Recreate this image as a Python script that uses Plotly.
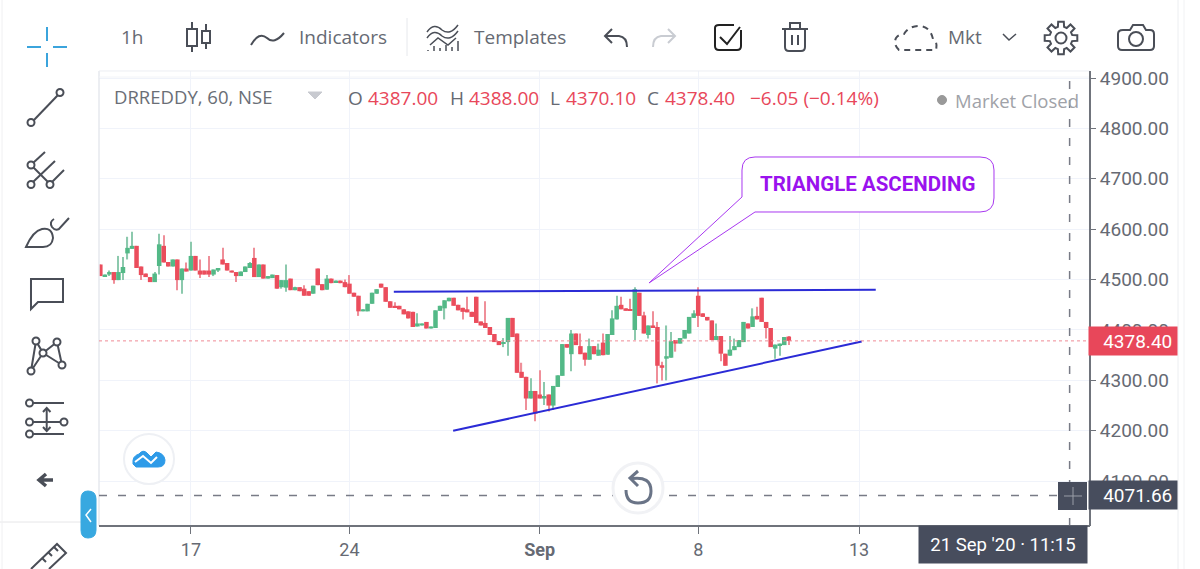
import math
import plotly.graph_objects as go

opens = [4530,4507,4510,4515,4499,4513,4552,4561,4567,4526,4512,4505,4495,4527,4567,4535,4526,4540,4499,4522,
         4518,4547,4518,4518,4518,4510,4518,4540,4533,4518,4515,4507,4515,4523,4543,4505,4530,4502,4503,4509,
         4485,4484,4502,4479,4485,4482,4477,4472,4522,4491,4480,4502,4495,4498,4495,4492,4474,4468,4437,4437,
         4452,4472,4492,4485,4457,4448,4448,4441,4437,4436,4407,4409,4416,4403,4404,4438,4443,4457,4464,4450,
         4444,4441,4436,4466,4417,4414,4406,4392,4378,4373,4376,4424,4393,4317,4307,4264,4279,4272,4264,4272,
         4250,4287,4309,4372,4352,4393,4368,4355,4341,4368,4349,4375,4351,4390,4421,4450,4443,4441,4400,4474,
         4429,4390,4409,4406,4330,4343,4345,4380,4373,4383,4393,4424,4468,4433,4426,4419,4380,4388,4353,4349,
         4360,4366,4376,4413,4406,4428,4464,4416,4404,4363,4370,4370,4387]
highs = [4530,4510,4518,4515,4547,4545,4585,4595,4567,4526,4512,4505,4515,4591,4588,4535,4540,4540,4522,4534,
         4575,4547,4540,4518,4547,4520,4523,4563,4533,4518,4515,4516,4526,4535,4563,4530,4530,4507,4510,4509,
         4499,4530,4502,4486,4485,4489,4477,4488,4522,4491,4509,4502,4498,4498,4500,4509,4474,4468,4441,4452,
         4474,4481,4492,4485,4457,4455,4448,4441,4437,4436,4433,4413,4416,4407,4439,4448,4459,4464,4464,4450,
         4444,4466,4436,4466,4417,4457,4406,4392,4378,4384,4424,4424,4393,4335,4307,4304,4279,4320,4297,4272,
         4289,4310,4372,4372,4400,4393,4393,4355,4383,4368,4373,4393,4392,4439,4468,4466,4443,4462,4485,4474,
         4436,4409,4437,4416,4337,4409,4396,4380,4384,4400,4426,4439,4485,4433,4426,4419,4413,4388,4353,4388,
         4383,4380,4416,4413,4443,4446,4464,4416,4404,4371,4373,4386,4388]
lows = [4507,4507,4507,4492,4499,4499,4540,4561,4523,4499,4505,4495,4495,4510,4534,4526,4526,4479,4472,4516,
        4518,4518,4503,4510,4505,4507,4515,4530,4518,4514,4495,4507,4515,4523,4505,4505,4502,4502,4503,4482,
        4482,4476,4479,4479,4477,4468,4468,4472,4489,4479,4480,4493,4495,4493,4485,4472,4466,4428,4437,4437,
        4452,4472,4484,4456,4444,4445,4441,4431,4423,4406,4407,4409,4403,4403,4404,4438,4421,4457,4448,4439,
        4421,4435,4426,4414,4409,4404,4390,4376,4370,4366,4349,4386,4315,4305,4241,4264,4219,4264,4251,4238,
        4241,4287,4309,4365,4318,4370,4352,4329,4341,4352,4349,4350,4351,4390,4421,4441,4438,4438,4380,4428,
        4393,4383,4404,4294,4300,4300,4345,4357,4373,4383,4393,4424,4406,4426,4419,4380,4380,4338,4329,4349,
        4360,4366,4376,4403,4406,4421,4416,4383,4366,4343,4349,4370,4370.10]
closes = [4507,4510,4515,4499,4515,4525,4563,4567,4523,4509,4505,4495,4512,4570,4534,4526,4540,4499,4522,4516,
          4547,4518,4510,4510,4510,4520,4523,4530,4518,4514,4507,4516,4526,4533,4505,4530,4502,4507,4510,4482,
          4499,4499,4479,4485,4477,4468,4468,4488,4489,4479,4502,4493,4498,4493,4485,4472,4466,4437,4441,4452,
          4474,4481,4484,4456,4444,4445,4441,4431,4423,4406,4413,4413,4403,4407,4439,4448,4459,4464,4448,4439,
          4436,4435,4426,4414,4409,4404,4390,4376,4370,4375,4424,4386,4315,4305,4264,4279,4234,4264,4269,4250,
          4289,4310,4372,4365,4393,4370,4352,4341,4368,4352,4361,4350,4392,4423,4448,4441,4438,4438,4481,4428,
          4393,4409,4404,4329,4325,4348,4378,4373,4384,4400,4426,4433,4428,4426,4419,4380,4388,4353,4329,4361,
          4368,4380,4416,4403,4427,4421,4416,4404,4366,4371,4373,4386,4378.40]

price_ticks = [4100,4200,4300,4400,4500,4600,4700,4800,4900]
date_ticks = [20,55,97,132,167.5]
date_labels = ["17","24","<b>Sep</b>","8","13"]
last_price = 4378.40
cross_index = 214
cross_price = 4071.66
resistance_index = [64.8,171.2]
resistance_price = [4476,4480]
support_index = [77.9,168.1]
support_price = [4200,4377]

DARK = "#4a4e57"; GREY="#666a73"; RED="#e8475a"; PURPLE="#9a12ee"; BLUE="#2b2bd6"; TAB="#38a8e0"

def X(p): return p/1200
def Y(p): return 1-p/569
def path(s):
    out=[]; isx=True
    for t in s.split():
        if t.isalpha(): out.append(t); isx=True
        else:
            v=float(t); out.append(f"{X(v) if isx else Y(v):.5f}"); isx=not isx
    return " ".join(out)

shapes=[]
def P(s,color=DARK,w=2,fill=None,dash=None):
    d=dict(type="path",path=path(s),xref="paper",yref="paper",line=dict(color=color,width=w))
    if dash: d["line"]["dash"]=dash
    if fill: d["fillcolor"]=fill
    shapes.append(d)
def C(cx,cy,r,color=DARK,w=2,fill=None):
    d=dict(type="circle",xref="paper",yref="paper",x0=X(cx-r),x1=X(cx+r),y0=Y(cy+r),y1=Y(cy-r),line=dict(color=color,width=w))
    if fill: d["fillcolor"]=fill
    shapes.append(d)
def R(x0,y0,x1,y1,fill,color=None,w=0):
    shapes.append(dict(type="rect",xref="paper",yref="paper",x0=X(x0),x1=X(x1),y0=Y(y1),y1=Y(y0),fillcolor=fill,line=dict(color=color or fill,width=w)))

ann=[]
def T(x,y,text,size=19,color=GREY,font="Open Sans",anchor="left"):
    ann.append(dict(x=X(x-2 if anchor=="left" else x),y=Y(y),xref="paper",yref="paper",text=text,showarrow=False,xanchor=anchor,yanchor="middle",
                    font=dict(family=font,size=size,color=color)))

# plot frame pieces
P("M 99 71 L 99 526",color="#e6e8ee",w=1.5)
P("M 99 71 L 1090 71",color="#eceef3",w=1)
P("M 99 77 L 1090 77",color="#f2f4f8",w=1)
P("M 99 526 L 1090 526",color="#6f737b",w=2)
P("M 1090 71 L 1090 526",color="#6f737b",w=2)
P("M 1178 0 L 1178 569",color="#eceef1",w=1)
P("M 1184 0 L 1184 569",color="#f1f2f4",w=1)
P("M 0 522 L 95 522",color="#e6e6e8",w=1)
P("M 2 0 L 2 569",color="#f0f0f2",w=1)
P("M 407 18 L 407 56",color="#e6e8ec",w=1)

# crosshair tool
for s in ["M 47 27 L 47 41","M 47 53 L 47 67","M 27 47 L 41 47","M 53 47 L 67 47"]:
    P(s,color="#3ba4dc",w=2)
# line tool
P("M 34 120 L 58 95"); C(31,122.5,3.5); C(60,92.5,3.5)
# fork tool
P("M 33 163 L 45 152"); P("M 31 165 L 50 184"); P("M 33 182 L 55 161"); P("M 52 182 L 64 170")
C(31,165,3.5,fill="white"); C(31,184.5,3.5,fill="white"); C(50,184.5,3.5,fill="white")
# brush tool
P("M 26 247 Q 33 231 42 229 Q 52 227 53 238 Q 52 247 43 247 Z"); P("M 54 219 Q 49 222 52 227 Q 55 231 59 229 L 69 218")
# comment
P("M 31 279 L 63 279 L 63 302 L 38 302 L 31 309 Z")
# pattern
P("M 31 371 L 36 341 L 43 353 L 31 371 M 43 353 L 57 342 L 62 365 L 43 353")
for c in [(31,371),(36,341),(43,353),(57,342),(62,365)]: C(c[0],c[1],3.5,fill="white")
# sliders
P("M 29 403 L 64 403"); P("M 29 422 L 64 422"); P("M 29 434 L 64 434"); P("M 46.7 408 L 46.7 430"); P("M 43 412 L 46.7 408 L 50.5 412"); P("M 43 427 L 46.7 431 L 50.5 427")
C(29.5,403,3.5,fill="white"); C(29.5,422,3.5,fill="white"); C(64,422,3.5,fill="white"); C(29.5,434,3.5,fill="white")
# back arrow
P("M 53 480 L 41 480 M 46 474 L 39 480 L 46 486",w=3.5)
# ruler
P("M 31 569 L 57 544 L 66 553 L 49 569")
P("M 42 558 L 46 562 M 48 552 L 52 556 M 54 547 L 58 551")
# tab
P("M 81 499 Q 81 491 88 491 Q 96 491 96 499 L 96 530 Q 96 538 88 538 Q 81 538 81 530 Z",color=TAB,w=1,fill=TAB)
P("M 91 509 L 86 515 L 91 522",color="white",w=1.5)

# toolbar icons
P("M 192 22 L 192 52"); R(187,29,197,46,"white",DARK,2)
P("M 206 24 L 206 49",w=2); R(202,31,210,43,"white",DARK,2)
P("M 251 45 Q 259 31 267 38 Q 274 45 284 33",w=2)
P("M 427 32 Q 434 22 442 30 Q 450 36 458 25",w=1.5); P("M 427 38 Q 434 28 442 36 Q 450 42 458 31",w=1.5); P("M 430 45 L 438 38 L 448 45 L 456 38",w=1.5)
P("M 428 51 L 428 50 M 434 51 L 434 46 M 440 51 L 440 48 M 446 51 L 446 45 M 452 51 L 452 47 M 458 51 L 458 41",w=1.5)
P("M 612 29 L 605 36 L 612 43",w=2); P("M 605 36 L 619 36 Q 627 37 627 47",w=2)
P("M 668 29 L 675 36 L 668 43",color="#c9ccd2",w=2); P("M 675 36 L 661 36 Q 653 37 653 47",color="#c9ccd2",w=2)
P("M 741 30 L 741 46 Q 741 50 737 50 L 719 50 Q 715 50 715 46 L 715 28 Q 715 25 719 25 L 734 25",color="#222",w=2)
P("M 720 37 L 727 44 L 740 27",color="#222",w=2)
P("M 782 29 L 808 29",w=2); P("M 790 29 L 790 23 L 800 23 L 800 29",w=2)
P("M 785 29 L 785 47 Q 785 51 789 51 L 801 51 Q 805 51 805 47 L 805 29",w=2); P("M 792 35 L 792 45 M 798 35 L 798 45",w=2)
P("M 899 50 Q 893 44 896 38 Q 899 34 904 34 Q 909 26 919 26 Q 930 26 933 39 Q 938 42 936 50 Z",w=2,dash="6px,5px")
P("M 1003 34 L 1009 40 L 1016 34",w=1.5)
# gear
gp=[]
for k in range(8):
    a=k*math.pi/4
    for da,r in [(-0.27,11.5),(-0.17,16.5),(0.17,16.5),(0.27,11.5)]:
        gp.append((1061+r*math.cos(a+da),38+r*math.sin(a+da)))
P("M "+" L ".join(f"{a:.1f} {b:.1f}" for a,b in gp)+" Z",w=2); C(1061,38,5.5)
# camera
P("M 1123 30 L 1130 30 L 1133 25 L 1143 25 L 1146 30 L 1150 30 Q 1154 30 1154 34 L 1154 46 Q 1154 50 1150 50 L 1122 50 Q 1118 50 1118 46 L 1118 34 Q 1118 30 1123 30 Z",w=2); C(1136,39,7)

# logo
C(149,459,25,color="#eef0f4",w=2,fill="white")
P("M 133 464 Q 132 456 139 454 Q 143 449 147 453 L 151 457 L 156 452 Q 164 453 165 460 Q 165 467 158 467 L 136 467 Z",color="#2e9be8",w=1,fill="#2e9be8")
P("M 135 462 L 143 456 L 151 463 L 157 457",color="white",w=2)
# callout
P("M 742 170 Q 742 157 755 157 L 980 157 Q 994 157 994 170 L 994 198 Q 994 212 980 212 L 755 212 L 649 283 L 742 197 Z",color="#a838f0",w=1,fill="white")
# last-price dotted, crosshair
shapes.append(dict(type="line",xref="x",yref="y",x0=-0.29,x1=218.5,y0=last_price,y1=last_price,line=dict(color="#ef8a96",width=1,dash="dot")))
shapes.append(dict(type="line",xref="paper",yref="y",x0=X(99),x1=X(1058),y0=cross_price,y1=cross_price,line=dict(color="#787b86",width=1.5,dash="8px,11px")))
shapes.append(dict(type="line",xref="x",yref="paper",x0=cross_index,x1=cross_index,y0=Y(526),y1=Y(71),line=dict(color="#787b86",width=1.5,dash="8px,11px")))
# crosshair box
R(1058,482,1087,510,"#474d5d")
P("M 1064 496 L 1082 496 M 1073 487 L 1073 505",color="#9a9ea8",w=1)
# rotate button
C(638,488,25,color="#f1f2f5",w=3,fill="white")
P("M 632 478.5 Q 651 476 651 491 Q 651 503 638 503 Q 626 503 626 490",color="#6a7487",w=3)
P("M 638 471 L 630 478 L 638 486",color="#6a7487",w=3)

# texts
T(121,37,"1h",19); T(299,37,"Indicators",19); T(474,37,"Templates",19); T(948,37,"Mkt",19)
T(114,96,"DRREDDY, 60, NSE",18.5,color="#6a6e76")
P("M 308 92 L 322 92 L 315 99 Z",color="#c8cad0",w=1,fill="#c8cad0")
y=98
for xx,t,c in [(348,"O",GREY),(368,"4387.00",RED),(450,"H",GREY),(469,"4388.00",RED),(550,"L",GREY),(566,"4370.10",RED),(647,"C",GREY),(665,"4378.40",RED),(750,"−6.05 (−0.14%)",RED)]:
    T(xx,y,t,19,color=c)
C(942,100,4.5,color="#999",w=1,fill="#999")
T(955,100,"Market Closed",18.5,color="#a0a2a8")
T(868,184,"<b>TRIANGLE ASCENDING</b>",20.5,color=PURPLE,font="Roboto",anchor="center")
# badges
for price,label,bg in [(last_price,"4378.40","#e8475a"),(cross_price,"4071.66","#474d5d")]:
    ann.append(dict(x=X(1133),y=price,xref="paper",yref="y",xanchor="center",yanchor="middle",text="  "+label,showarrow=False,bgcolor=bg,width=86,height=26,
                font=dict(family="Roboto",size=19,color="white")))
ann.append(dict(x=X(1003),y=Y(544.5),xref="paper",yref="paper",xanchor="center",yanchor="middle",text="21 Sep '20 · 11:15",showarrow=False,bgcolor="#474d5d",width=166,height=35,
                font=dict(family="Roboto",size=18.5,color="white")))

idx=list(range(len(opens)))
up=[c>=o for o,c in zip(opens,closes)]
fig=go.Figure()
fig.add_trace(go.Bar(x=idx,base=lows,y=[h-l for h,l in zip(highs,lows)],width=0.26,
    marker=dict(color=["#8cc9ad" if u else "#ef8f99" for u in up],line=dict(width=0)),hoverinfo="skip",showlegend=False))
fig.add_trace(go.Bar(x=idx,base=[min(o,c) for o,c in zip(opens,closes)],y=[abs(c-o) for o,c in zip(opens,closes)],width=1.0,
    marker=dict(color=["#53b987" if u else "#eb4d5c" for u in up],line=dict(width=0)),hoverinfo="skip",showlegend=False))
fig.add_trace(go.Scatter(x=resistance_index,y=resistance_price,mode="lines",line=dict(color=BLUE,width=2),hoverinfo="skip",showlegend=False))
fig.add_trace(go.Scatter(x=support_index,y=support_price,mode="lines",line=dict(color=BLUE,width=2),hoverinfo="skip",showlegend=False))
fig.update_layout(width=1200,height=569,margin=dict(l=0,r=0,t=0,b=0,autoexpand=False),paper_bgcolor="white",plot_bgcolor="white",
    showlegend=False,barmode="overlay",shapes=shapes,annotations=ann,hovermode=False,
    xaxis=dict(domain=[99/1200,1090/1200],range=[-0.29,218.5],tickmode="array",tickvals=date_ticks,ticktext=date_labels,automargin=False,
               showgrid=True,gridcolor="#f0f3fa",gridwidth=1,zeroline=False,ticks="outside",ticklen=7,
               tickcolor="#6f737b",tickfont=dict(family="Roboto",size=18,color="#666a73"),showline=False),
    yaxis=dict(domain=[1-526/569,1-71/569],range=[4011,4914],side="right",tickmode="array",tickvals=price_ticks,tickformat=".2f",automargin=False,
               showgrid=True,gridcolor="#f0f3fa",gridwidth=1,zeroline=False,ticks="outside",ticklen=5,tickcolor="#6f737b",
               tickfont=dict(family="Roboto",size=19,color="#666a73"),showline=False))
fig.write_html("out.html",config=dict(displayModeBar=False),post_script="document.body.style.margin='0';")
